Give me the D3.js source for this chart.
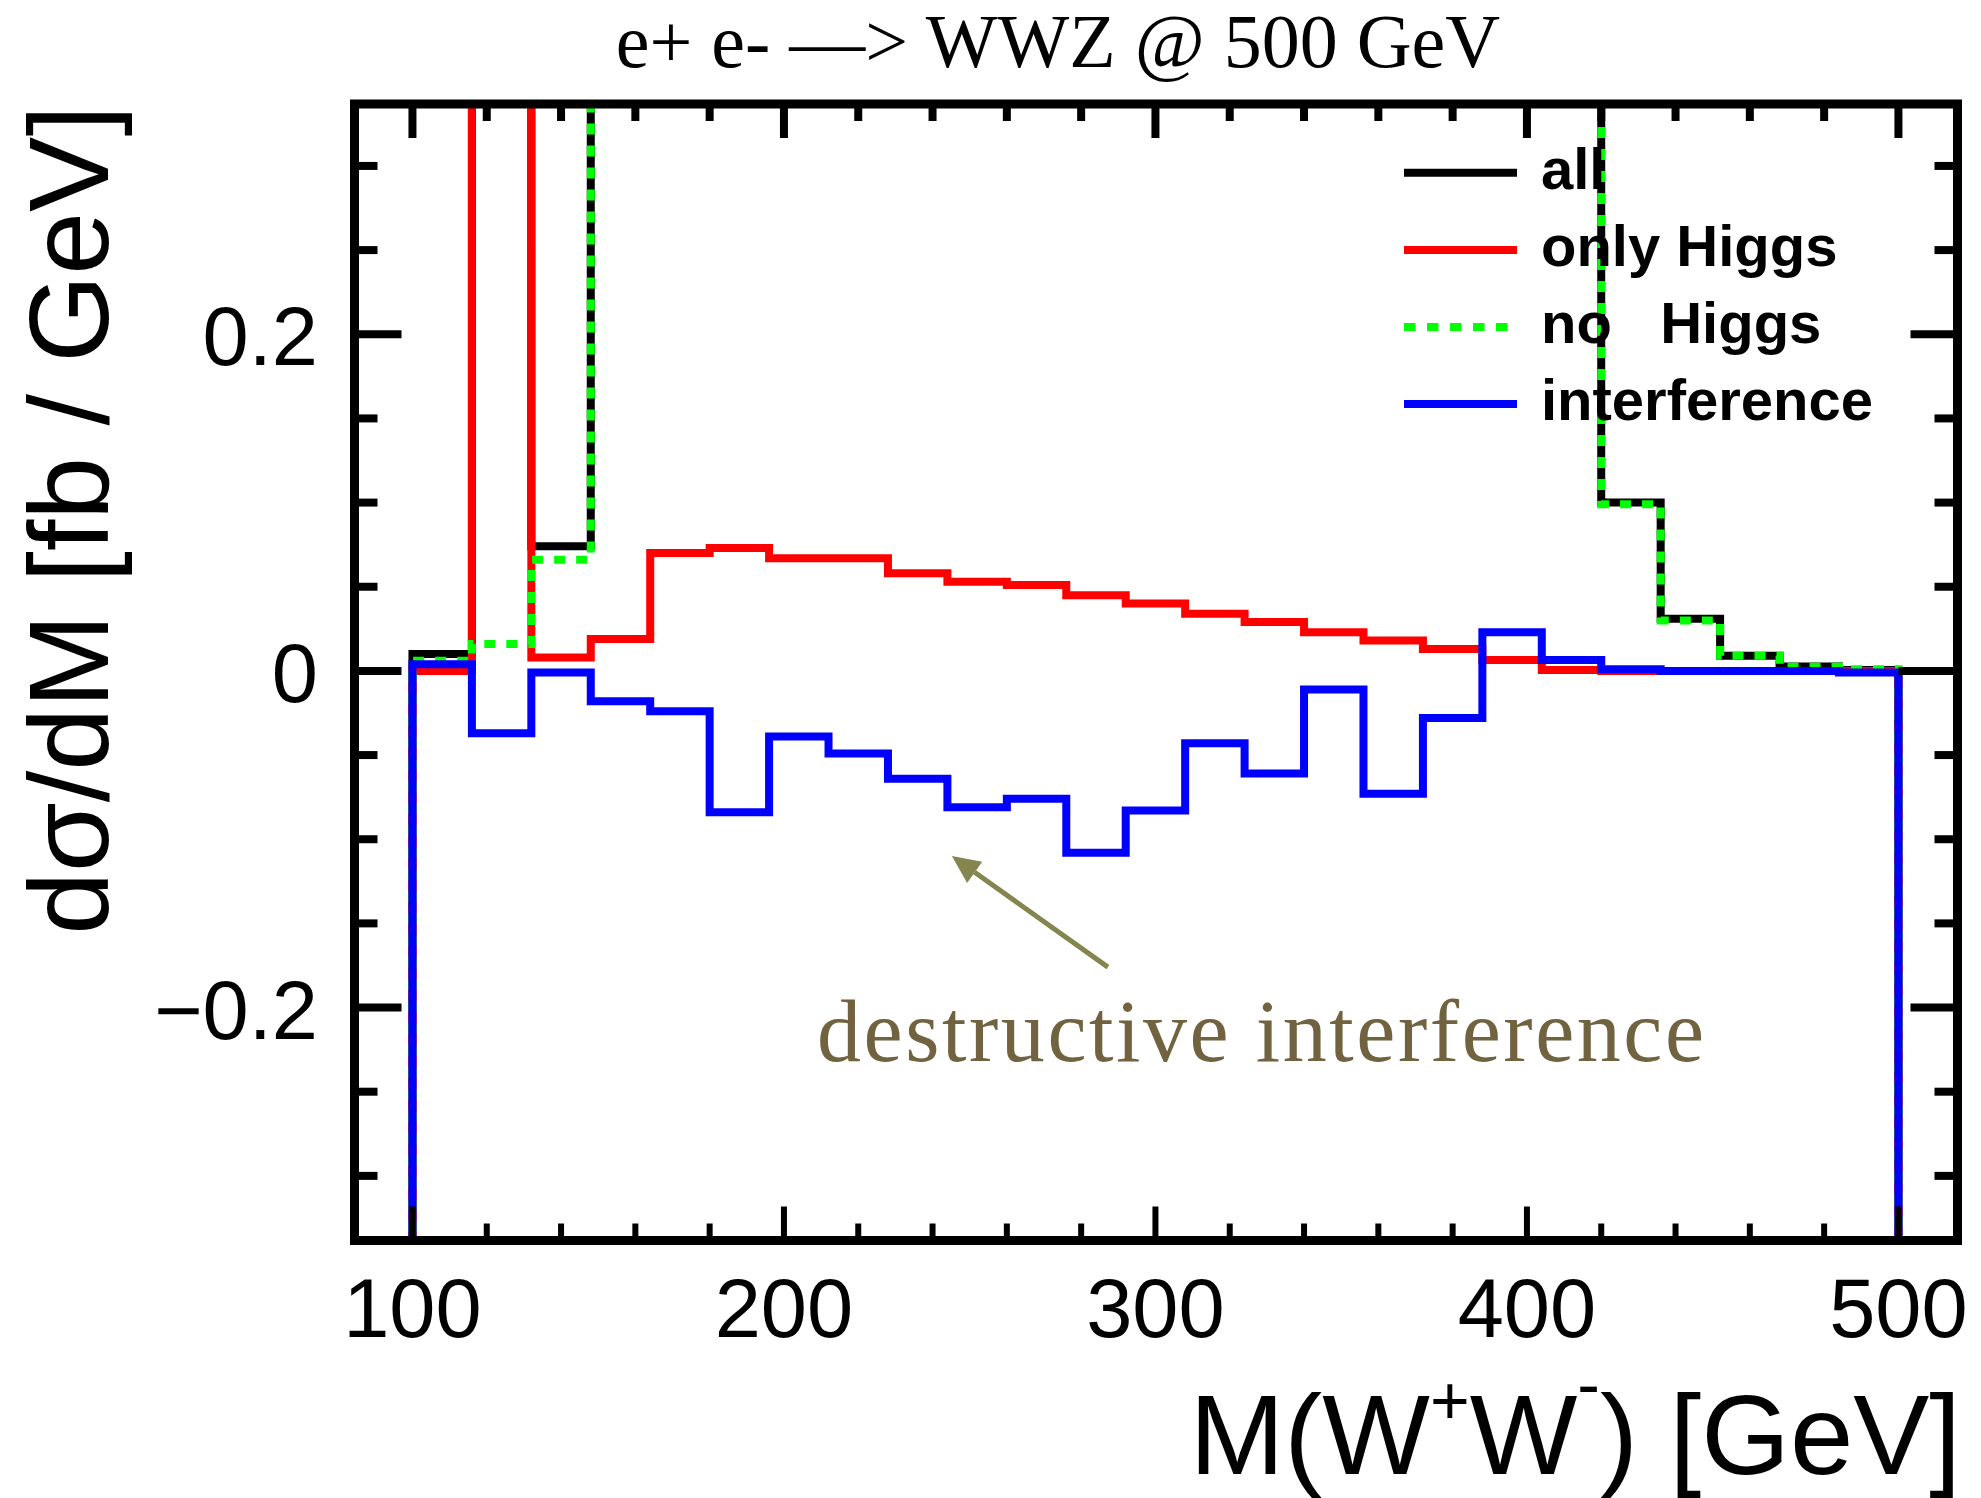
<!DOCTYPE html>
<html>
<head>
<meta charset="utf-8">
<script src="https://cdn.jsdelivr.net/npm/d3@7"></script>
<style>
  body { margin: 0; background: #fff; }
  svg { display: block; }
  .sans { font-family: "Liberation Sans", Arial, Helvetica, sans-serif; }
  .serif { font-family: "Liberation Serif", "Times New Roman", serif; }
</style>
</head>
<body>
<svg id="mainsvg" width="1981" height="1498"></svg>
<script>
// bin edges of M(W+W-) in GeV
var edges = [100, 116, 132, 148, 164, 180, 196, 212, 228, 244, 260, 276, 292,
  308, 324, 340, 356, 372, 388, 404, 420, 436, 452, 468, 484, 500];

// dsigma/dM per bin [fb/GeV]; values above 0.34 are off the plot (estimated)
var allXS = [0.010, 1.60, 0.074, 1.20, 1.35, 1.45, 1.50, 1.52, 1.50, 1.46, 1.40,
  1.32, 1.22, 1.10, 0.98, 0.86, 0.74, 0.62, 0.52, 0.44, 0.100, 0.031, 0.009,
  0.0026, 0.0005];
var onlyHiggs = [0.000, 1.55, 0.008, 0.019, 0.070, 0.073, 0.067, 0.067, 0.058,
  0.053, 0.051, 0.045, 0.040, 0.034, 0.029, 0.023, 0.018, 0.013, 0.0065,
  0.0005, 0.000, 0.000, 0.000, 0.000, 0.000];
var noHiggs = [0.006, 0.016, 0.066, 1.22, 1.37, 1.51, 1.54, 1.55, 1.54, 1.52,
  1.46, 1.41, 1.28, 1.14, 1.04, 0.86, 0.80, 0.63, 0.49, 0.43, 0.099, 0.030,
  0.009, 0.0025, 0.001];
var interference = [0.004, -0.037, -0.001, -0.018, -0.024, -0.084, -0.039,
  -0.049, -0.064, -0.081, -0.076, -0.108, -0.083, -0.043, -0.061, -0.011,
  -0.073, -0.028, 0.023, 0.0065, 0.001, 0.000, 0.000, 0.000, -0.001];

var xTickValues = [100, 200, 300, 400, 500];
var yTickValues = [-0.2, 0, 0.2];
var yTickLabels = ["\u22120.2", "0", "0.2"];

var series = [
  { name: "all", values: allXS, color: "#000000", dash: null },
  { name: "only Higgs", values: onlyHiggs, color: "#ff0000", dash: null },
  { name: "no   Higgs", values: noHiggs, color: "#00ff00", dash: "11,11" },
  { name: "interference", values: interference, color: "#0000ff", dash: null }
];

var svg = d3.select("#mainsvg");
var plotL = 354.5, plotR = 1957.5, plotT = 104, plotB = 1240.5;

var x = d3.scaleLinear().domain([84.4, 515.9]).range([plotL, plotR]);
var y = d3.scaleLinear().domain([-0.3384, 0.3368]).range([plotB, plotT]);

svg.append("defs").append("clipPath").attr("id", "plotclip")
  .append("rect")
  .attr("x", plotL).attr("y", plotT)
  .attr("width", plotR - plotL).attr("height", plotB - plotT);

// histograms as step outlines, starting and ending at the frame bottom
var line = d3.line()
  .x(function (d) { return x(d[0]); })
  .y(function (d) { return y(d[1]); })
  .curve(d3.curveStepAfter);

function stepPoints(vals) {
  var pts = [[edges[0], -1]];
  vals.forEach(function (v, i) { pts.push([edges[i], v]); });
  pts.push([edges[edges.length - 1], vals[vals.length - 1]]);
  pts.push([edges[edges.length - 1], -1]);
  return pts;
}

var hist = svg.append("g").attr("clip-path", "url(#plotclip)");
hist.selectAll("path")
  .data(series)
  .enter()
  .append("path")
  .attr("d", function (d) { return line(stepPoints(d.values)); })
  .style("fill", "none")
  .attr("stroke", function (d) { return d.color; })
  .attr("stroke-width", 8)
  .attr("stroke-dasharray", function (d) { return d.dash; });

// frame and ticks
var axes = svg.append("g").attr("stroke", "#000");
var xMinor = d3.range(100, 501, 20);
var yMinor = d3.range(-6, 7).map(function (k) { return k * 0.05; });

xMinor.forEach(function (v) {
  var len = xTickValues.indexOf(v) >= 0 ? 34 : 17;
  axes.append("line").attr("x1", x(v)).attr("x2", x(v))
    .attr("y1", plotB).attr("y2", plotB - len).attr("stroke-width", 6);
  axes.append("line").attr("x1", x(v)).attr("x2", x(v))
    .attr("y1", plotT).attr("y2", plotT + len).attr("stroke-width", 8);
});
yMinor.forEach(function (v) {
  var major = yTickValues.some(function (t) { return Math.abs(t - v) < 1e-9; });
  var len = major ? 47 : 23;
  axes.append("line").attr("x1", plotL).attr("x2", plotL + len)
    .attr("y1", y(v)).attr("y2", y(v)).attr("stroke-width", 8);
  axes.append("line").attr("x1", plotR).attr("x2", plotR - len)
    .attr("y1", y(v)).attr("y2", y(v)).attr("stroke-width", 8);
});
// zero line between the last bin edge and the right frame
axes.append("line").attr("x1", x(500)).attr("x2", plotR)
  .attr("y1", y(0)).attr("y2", y(0)).attr("stroke-width", 8);
axes.append("rect")
  .attr("x", plotL).attr("y", plotT)
  .attr("width", plotR - plotL).attr("height", plotB - plotT)
  .attr("fill", "none").attr("stroke-width", 9);

// tick labels
svg.append("g").attr("class", "sans")
  .selectAll("text")
  .data(xTickValues)
  .enter()
  .append("text")
  .attr("x", function (d) { return x(d); })
  .attr("y", 1337)
  .attr("text-anchor", "middle")
  .attr("font-size", 83)
  .text(function (d) { return d; });

svg.append("g").attr("class", "sans")
  .selectAll("text")
  .data(yTickValues)
  .enter()
  .append("text")
  .attr("x", 318)
  .attr("y", function (d) { return y(d) + 31; })
  .attr("text-anchor", "end")
  .attr("font-size", 83)
  .text(function (d, i) { return yTickLabels[i]; });

// axis titles
svg.append("text").attr("class", "sans")
  .attr("transform", "translate(108,520) rotate(-90)")
  .attr("text-anchor", "middle")
  .attr("font-size", 113)
  .text("d\u03c3/dM [fb / GeV]");

var xl = svg.append("text").attr("class", "sans")
  .attr("x", 1961).attr("y", 1474)
  .attr("text-anchor", "end")
  .attr("font-size", 114);
xl.append("tspan").text("M(W");
xl.append("tspan").attr("dy", -50).attr("font-size", 68).text("+");
xl.append("tspan").attr("dy", 50).text("W");
xl.append("tspan").attr("dy", -66).attr("font-size", 68).text("-");
xl.append("tspan").attr("dy", 66).text(") [GeV]");

// title
svg.append("text").attr("class", "serif")
  .attr("x", 1058).attr("y", 67)
  .attr("text-anchor", "middle")
  .attr("font-size", 76)
  .text("e+ e- \u2014> WWZ @ 500 GeV");

// legend
var legend = svg.append("g").attr("class", "sans");
var legY = [172.7, 250, 327, 404];
series.forEach(function (s, i) {
  legend.append("line")
    .attr("x1", 1404).attr("x2", 1517)
    .attr("y1", legY[i]).attr("y2", legY[i])
    .attr("stroke", s.color).attr("stroke-width", 8)
    .attr("stroke-dasharray", s.dash ? "11.5,11.5" : null);
  legend.append("text")
    .attr("x", 1541).attr("y", legY[i] + 16)
    .attr("font-size", 58).attr("font-weight", "bold")
    .style("white-space", "pre")
    .text(s.name);
});

// annotation
var arrowTail = [287.2, -0.176], arrowTip = [245.2, -0.110];
var tx = x(arrowTip[0]), ty = y(arrowTip[1]);
var sx = x(arrowTail[0]), sy = y(arrowTail[1]);
var ang = Math.atan2(ty - sy, tx - sx);
var hl = 28, hw = 13;
var bx = tx - hl * Math.cos(ang), by = ty - hl * Math.sin(ang);
svg.append("line")
  .attr("x1", sx).attr("y1", sy).attr("x2", bx).attr("y2", by)
  .attr("stroke", "#858550").attr("stroke-width", 5);
svg.append("path")
  .attr("d", "M" + tx + "," + ty +
    "L" + (bx + hw * Math.sin(ang)) + "," + (by - hw * Math.cos(ang)) +
    "L" + (bx - hw * Math.sin(ang)) + "," + (by + hw * Math.cos(ang)) + "Z")
  .attr("fill", "#858550");

svg.append("text").attr("class", "serif")
  .attr("x", x(208.9)).attr("y", y(-0.232))
  .attr("font-size", 88)
  .attr("textLength", 887)
  .attr("lengthAdjust", "spacing")
  .attr("fill", "#716240")
  .text("destructive interference");
</script>
</body>
</html>
